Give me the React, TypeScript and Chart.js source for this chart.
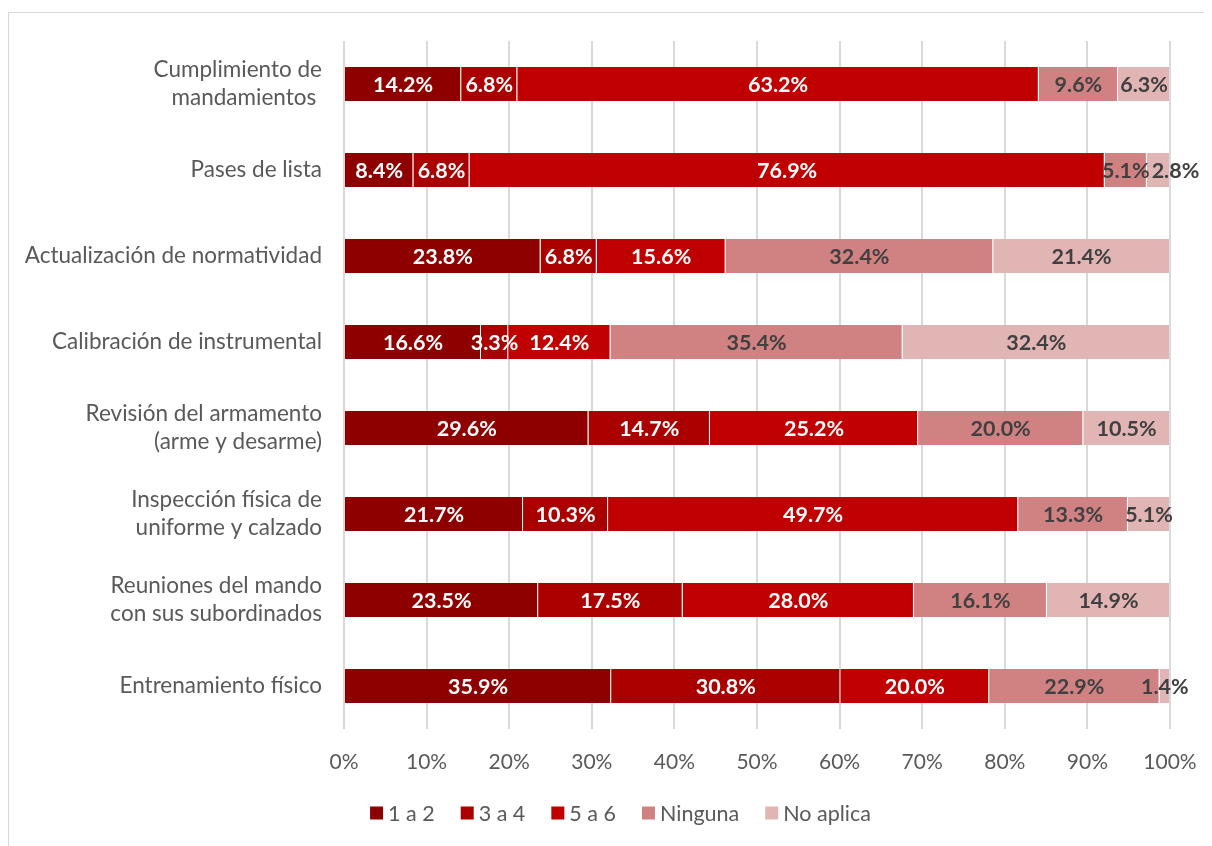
import React, { useEffect, useRef } from "react";
import { Chart, registerables } from "chart.js";

Chart.register(...registerables);

const categories: (string | string[])[] = [
  ["Cumplimiento de", "mandamientos "],
  "Pases de lista",
  "Actualización de normatividad",
  "Calibración de instrumental",
  ["Revisión del armamento", "(arme y desarme)"],
  ["Inspección física de", "uniforme y calzado"],
  ["Reuniones del mando", "con sus subordinados"],
  "Entrenamiento físico",
];

const seriesNames = ["1 a 2", "3 a 4", "5 a 6", "Ninguna", "No aplica"];

const s1a2 = [14.2, 8.4, 23.8, 16.6, 29.6, 21.7, 23.5, 35.9];
const s3a4 = [6.8, 6.8, 6.8, 3.3, 14.7, 10.3, 17.5, 30.8];
const s5a6 = [63.2, 76.9, 15.6, 12.4, 25.2, 49.7, 28.0, 20.0];
const sNinguna = [9.6, 5.1, 32.4, 35.4, 20.0, 13.3, 16.1, 22.9];
const sNoAplica = [6.3, 2.8, 21.4, 32.4, 10.5, 5.1, 14.9, 1.4];

const xTicks = [0, 10, 20, 30, 40, 50, 60, 70, 80, 90, 100];

const colors = ["#8E0000", "#AA0000", "#C00000", "#D08282", "#E2B5B5"];
const labelColors = ["#FFFFFF", "#FFFFFF", "#FFFFFF", "#404040", "#404040"];

const FONT = "Lato, 'Open Sans', sans-serif";

export default function App() {
  const ref = useRef<HTMLCanvasElement | null>(null);

  useEffect(() => {
    document.body.style.overflow = "hidden";
    const raw = [s1a2, s3a4, s5a6, sNinguna, sNoAplica];
    const totals = categories.map((_, i) => raw.reduce((a, s) => a + s[i], 0));

    const dataLabelPlugin = {
      id: "dataLabels",
      afterDatasetsDraw(chart: any) {
        const ctx = chart.ctx;
        ctx.save();
        ctx.font = `bold 21.5px ${FONT}`;
        ctx.textAlign = "center";
        ctx.textBaseline = "middle";
        const n = chart.data.labels.length;
        for (let i = 0; i < n; i++) {
          let prevRight = -Infinity;
          chart.data.datasets.forEach((ds: any, di: number) => {
            const bar: any = chart.getDatasetMeta(di).data[i];
            const text = ds.rawValues[i].toFixed(1) + "%";
            const w = ctx.measureText(text).width;
            let cx = (bar.x + bar.base) / 2;
            if (cx - w / 2 < prevRight + 2) cx = prevRight + 2 + w / 2;
            prevRight = cx + w / 2;
            ctx.fillStyle = labelColors[di];
            ctx.fillText(text, cx, bar.y + 1);
          });
        }
        ctx.restore();
      },
    };

    const legendPlugin = {
      id: "customLegend",
      afterDraw(chart: any) {
        const ctx = chart.ctx;
        ctx.save();
        ctx.font = `21.5px ${FONT}`;
        ctx.textBaseline = "middle";
        const box = 13;
        const gap = 5;
        const itemGap = 26;
        const widths = seriesNames.map((n) => box + gap + ctx.measureText(n).width);
        const total = widths.reduce((a, b) => a + b, 0) + itemGap * (widths.length - 1);
        const centerX = chart.width / 2 + 10;
        const cy = chart.chartArea.bottom + 84;
        let x = centerX - total / 2;
        seriesNames.forEach((n, i) => {
          ctx.fillStyle = colors[i];
          ctx.fillRect(x, cy - box / 2, box, box);
          ctx.fillStyle = "#595959";
          ctx.fillText(n, x + box + gap, cy + 1);
          x += widths[i] + itemGap;
        });
        ctx.restore();
      },
    };

    const chart = new Chart(ref.current!, {
      type: "bar",
      data: {
        labels: categories,
        datasets: raw.map((s, di) => ({
          label: seriesNames[di],
          data: s.map((v, i) => (v / totals[i]) * 100),
          rawValues: s,
          backgroundColor: colors[di],
          borderColor: "rgba(255,255,255,0.15)",
          borderWidth: { left: 0, right: 1, top: 0, bottom: 0 },
          borderSkipped: false,
          categoryPercentage: 1,
          barPercentage: 0.395,
        })) as any,
      },
      options: {
        indexAxis: "y",
        animation: false,
        responsive: false,
        maintainAspectRatio: false,
        layout: { padding: { top: 28, right: 42, left: 0, bottom: 65 } },
        scales: {
          x: {
            stacked: true,
            min: 0,
            max: 100,
            afterBuildTicks: (scale: any) => {
              scale.ticks = xTicks.map((v) => ({ value: v }));
            },
            afterFit: (scale: any) => {
              scale.height = 52;
              scale.paddingLeft = 0;
              scale.paddingRight = 0;
            },
            ticks: {
              callback: (v: any) => v + "%",
              color: "#595959",
              font: { family: FONT, size: 21 },
              padding: 21,
              maxRotation: 0,
            },
            grid: { color: "#D9D9D9", lineWidth: 2, drawTicks: false },
            border: { display: false },
          },
          y: {
            stacked: true,
            afterFit: (scale: any) => {
              scale.width = 335;
              scale.paddingTop = 0;
              scale.paddingBottom = 0;
            },
            ticks: {
              color: "#595959",
              font: { family: FONT, size: 22.5, lineHeight: 1.25 },
              padding: 22,
            },
            grid: { display: false, drawTicks: false },
            border: { display: false },
          },
        },
        plugins: {
          legend: { display: false },
          tooltip: { enabled: false },
        },
      },
      plugins: [dataLabelPlugin, legendPlugin],
    });
    return () => chart.destroy();
  }, []);

  return (
    <div style={{ paddingTop: 4 }}>
      <div
        style={{
          width: 1220,
          height: 860,
          border: "1px solid #D9D9D9",
          background: "#FFFFFF",
          boxSizing: "border-box",
        }}
      >
        <canvas ref={ref} width={1203} height={833} style={{ display: "block" }} />
      </div>
    </div>
  );
}
